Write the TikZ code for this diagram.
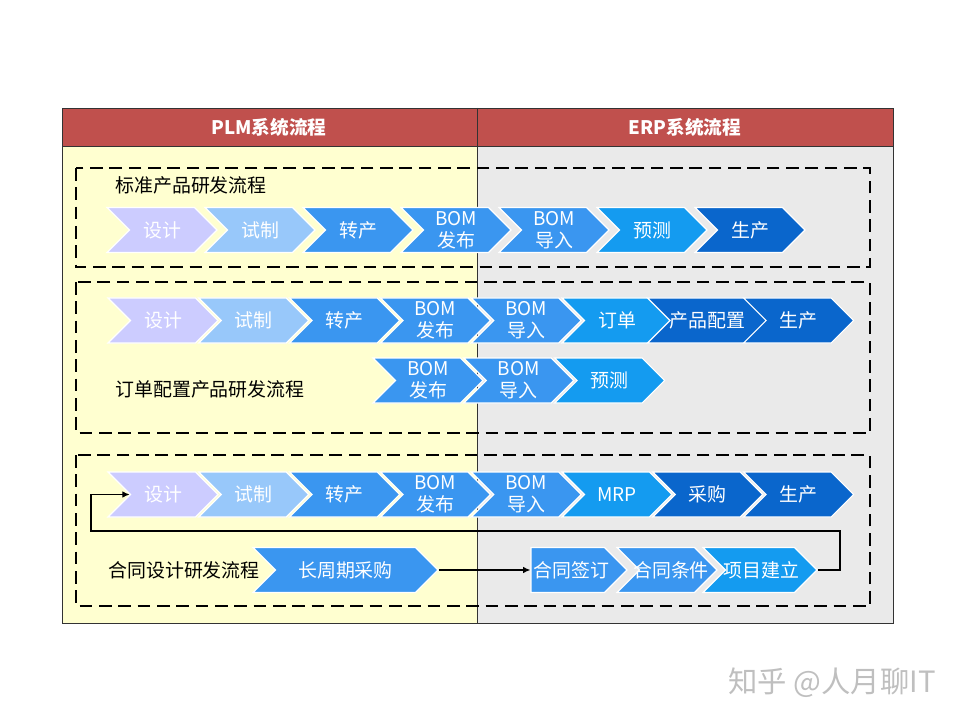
\documentclass[tikz,border=0pt]{standalone}
\usepackage{fontspec}
\setmainfont{Noto Sans CJK SC}
\usetikzlibrary{shapes.symbols,arrows.meta}
\definecolor{hdrred}{RGB}{192,80,77}
\definecolor{plmbg}{RGB}{255,255,208}
\definecolor{erpbg}{RGB}{234,234,234}
\definecolor{lav}{RGB}{204,204,255}
\definecolor{sky}{RGB}{152,200,250}
\definecolor{midblue}{RGB}{58,150,240}
\definecolor{brblue}{RGB}{20,155,240}
\definecolor{dkblue}{RGB}{10,102,204}
\tikzset{
  chev/.style={signal, signal to=east, signal from=west, signal pointer angle=90,
    draw=white, line width=0.9pt, inner sep=0pt, minimum height=33.75pt,
    minimum width=82.5pt, text=white, align=center,
    font=\fontsize{14.2}{16.5}\selectfont},
  lbl/.style={inner sep=0pt, font=\fontsize{14.2}{16.5}\selectfont},
  chevtext/.style={lbl, text=white},
  hdr/.style={text=white, font=\bfseries\fontsize{14}{16}\selectfont},
  grp/.style={draw=black, line width=1.2pt, dash pattern=on 9.5pt off 5pt},
  conn/.style={draw=black, line width=1pt, -{Latex[length=5.5pt,width=5pt]}},
}
\begin{document}
\begin{tikzpicture}[x=0.75pt,y=-0.75pt]
\useasboundingbox (0,0) rectangle (960,720);
% panels
\fill[plmbg] (62,146) rectangle (477,623);
\fill[erpbg] (477,146) rectangle (893,623);
\fill[hdrred] (62,108) rectangle (893,146);
\draw[black!80, line width=0.6pt] (62,108) rectangle (893,623);
\draw[black!80, line width=0.6pt] (62,146) -- (893,146);
\draw[black!80, line width=0.6pt] (477,108) -- (477,623);
\node[hdr] (plm) at (269,127) {PLM系统流程};
\node[hdr] (erp) at (685,127) {ERP系统流程};

% groups
\draw[grp] (76,168) rectangle (870,267);
\draw[grp] (76,282) rectangle (870,433);
\draw[grp] (76,455) rectangle (870,606);

% standard product
\node[lbl, anchor=west] (stdl) at (115,185) {标准产品研发流程};
\node[chev, fill=lav] (sa) at (162,230) {设计};
\node[chev, fill=sky] (sb) at (260,230) {试制};
\node[chev, fill=midblue] (sc) at (358,230) {转产};
\node[chev, fill=midblue] (sd) at (456,230) {BOM\\发布};
\node[chev, fill=midblue] (se) at (554,230) {BOM\\导入};
\node[chev, fill=brblue] (sf) at (652,230) {预测};
\node[chev, fill=dkblue] (sg) at (750,230) {生产};

% configure-to-order
\node[chev, fill=lav] (oa) at (163,320.5) {设计};
\node[chev, fill=sky] (ob) at (253.8,320.5) {试制};
\node[chev, fill=midblue] (oc) at (344.6,320.5) {转产};
\node[chev, fill=midblue] (od) at (435.4,320.5) {BOM\\发布};
\node[chev, fill=midblue] (oe) at (526.2,320.5) {BOM\\导入};
\node[chev, fill=brblue] (of) at (617,320.5) {订单};
\node[chev, fill=dkblue] (og) at (707.8,320.5) {产品配置};
\node[chev, fill=dkblue] (oh) at (798.6,320.5) {生产};
\node[lbl, anchor=west] (ordl) at (115,389) {订单配置产品研发流程};
\node[chev, fill=midblue] (pd) at (428,380.5) {BOM\\发布};
\node[chev, fill=midblue] (pe) at (518.8,380.5) {BOM\\导入};
\node[chev, fill=brblue] (pf) at (609.6,380.5) {预测};

% contract design
\node[chev, fill=lav] (ca) at (163,494.5) {设计};
\node[chev, fill=sky] (cb) at (253.8,494.5) {试制};
\node[chev, fill=midblue] (cc) at (344.6,494.5) {转产};
\node[chev, fill=midblue] (cd) at (435.4,494.5) {BOM\\发布};
\node[chev, fill=midblue] (ce) at (526.2,494.5) {BOM\\导入};
\node[chev, fill=brblue] (cf) at (617,494.5) {MRP};
\node[chev, fill=dkblue] (cg) at (707.8,494.5) {采购};
\node[chev, fill=dkblue] (ch) at (798.6,494.5) {生产};
\node[lbl, anchor=west] (ctrl) at (108,570) {合同设计研发流程};
\node[chev, fill=midblue, minimum width=138.75pt] (lead) at (345.5,570) {长周期采购};
\node[chev, fill=midblue, signal from=nowhere, minimum width=72pt,
  label={[chevtext, xshift=2.5pt]center:合同签订}] (sign) at (567.75,570) {};
\node[chev, fill=midblue, minimum width=75pt,
  label={[chevtext, xshift=3pt]center:合同条件}] (cond) at (667,570) {};
\node[chev, fill=brblue, minimum width=85.5pt,
  label={[chevtext, xshift=1pt]center:项目建立}] (proj) at (760,570) {};

\coordinate (loopr) at (840,531);
\coordinate (loopl) at (91,531);
\draw[conn] (lead.east) -- (sign.west);
\draw[conn] (proj.east) -| (loopr) -- (loopl) |- (ca.west);

\node[text=black!25, font=\fontsize{22}{24}\selectfont] (wm) at (832,683) {知乎 @人月聊IT};
\end{tikzpicture}
\end{document}
